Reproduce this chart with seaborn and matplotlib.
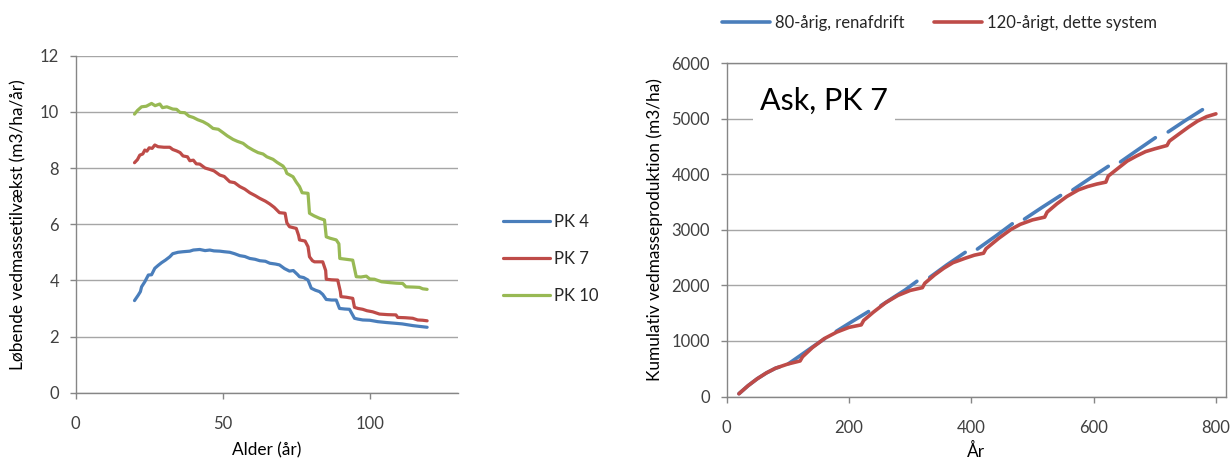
import numpy as np
import pandas as pd
import matplotlib
matplotlib.use("Agg")
import matplotlib.pyplot as plt
from matplotlib.lines import Line2D
import seaborn as sns

# ---------------- data: left chart (current increment) ----------------
pk4_age = [20, 21.3, 22, 22.4, 23.5, 24.7, 25.8, 26.9, 28, 29.2, 30.5, 32, 33, 34.8, 36.5, 38.8, 40, 42.2,
           44, 45.6, 47, 49, 50.5, 52.4, 54, 55.8, 57.5, 59.2, 61, 62.6, 64.5, 66, 68, 69.3, 71, 72.7, 74,
           75.5, 76.1, 77.5, 79, 80.1, 81.5, 82.9, 84, 85.2, 87, 88.6, 89.7, 91.5, 93.1, 94.8, 96, 97.6, 100,
           102.7, 105.5, 108.9, 111, 114.6, 117, 119.5]
pk4_val = [3.28, 3.48, 3.6, 3.77, 3.95, 4.19, 4.2, 4.43, 4.53, 4.63, 4.72, 4.84, 4.95, 5.0, 5.02, 5.04, 5.08,
           5.10, 5.06, 5.08, 5.05, 5.04, 5.02, 5.0, 4.95, 4.88, 4.85, 4.78, 4.75, 4.70, 4.68, 4.61, 4.58, 4.55,
           4.42, 4.33, 4.35, 4.2, 4.13, 4.1, 4.01, 3.72, 3.65, 3.60, 3.5, 3.32, 3.3, 3.30, 3.0, 2.98, 2.97,
           2.65, 2.62, 2.59, 2.58, 2.53, 2.5, 2.47, 2.45, 2.39, 2.36, 2.33]

pk7_age = [20, 21, 21.8, 22.8, 23.5, 24.2, 25, 26, 26.9, 28, 30, 32, 33, 34.3, 35.5, 36.5, 38, 38.8, 40, 41,
           42.2, 44, 45.6, 47, 49, 50.5, 52.4, 54, 55.8, 57.5, 59.2, 61, 62.6, 64.5, 66, 67.5, 69.3, 71.2,
           71.8, 72.7, 75, 75.8, 76.1, 78, 79, 79.5, 80.5, 81.2, 84, 85, 85.2, 87, 89.1, 90, 90.2, 92, 94.2,
           94.8, 96, 97.6, 99, 101, 103.3, 106, 108.9, 109.5, 112, 114.6, 116.3, 118, 119.5]
pk7_val = [8.19, 8.3, 8.46, 8.5, 8.64, 8.6, 8.72, 8.7, 8.82, 8.76, 8.74, 8.74, 8.66, 8.61, 8.55, 8.43, 8.4,
           8.26, 8.28, 8.15, 8.14, 8.0, 7.95, 7.9, 7.75, 7.7, 7.51, 7.48, 7.34, 7.25, 7.12, 7.02, 6.92, 6.82,
           6.72, 6.6, 6.41, 6.39, 6.05, 5.91, 5.85, 5.6, 5.44, 5.4, 5.2, 4.84, 4.7, 4.66, 4.66, 4.35, 4.04,
           4.02, 4.01, 3.6, 3.42, 3.4, 3.36, 3.04, 3.0, 2.97, 2.92, 2.88, 2.8, 2.78, 2.77, 2.68, 2.67, 2.65,
           2.59, 2.58, 2.56]

pk10_age = [20, 21, 22.4, 24, 25.8, 27, 28.6, 29.5, 31, 33, 34.3, 35.5, 37.1, 38.5, 40, 41.5, 43.3, 45, 46.7,
            48.5, 50.1, 51.5, 53.5, 55, 56.9, 58.5, 60.3, 62, 63.7, 65, 67.1, 68.5, 70.5, 71.3, 71.8, 73.9,
            75, 76.1, 77, 79, 79.5, 81, 82.9, 84.6, 85.2, 86.5, 88.6, 89.5, 89.8, 92, 94.2, 95.4, 97, 98.8,
            100, 101.6, 104, 106.7, 109, 111.2, 112.3, 115, 116.9, 118, 119.5]
pk10_val = [9.92, 10.05, 10.18, 10.2, 10.3, 10.22, 10.28, 10.15, 10.18, 10.1, 10.09, 9.98, 9.97, 9.85, 9.8,
            9.72, 9.65, 9.55, 9.41, 9.38, 9.26, 9.15, 9.02, 8.95, 8.88, 8.75, 8.64, 8.55, 8.5, 8.4, 8.31, 8.2,
            8.07, 7.95, 7.81, 7.69, 7.5, 7.34, 7.12, 7.1, 6.39, 6.3, 6.21, 6.15, 5.55, 5.5, 5.44, 5.3, 4.78,
            4.75, 4.72, 4.13, 4.12, 4.15, 4.05, 4.04, 3.95, 3.92, 3.9, 3.89, 3.77, 3.76, 3.75, 3.7, 3.68]

left_series = ["PK 4", "PK 7", "PK 10"]
left_colors = ["#4A7EBB", "#BE4B48", "#98B954"]

# ---------------- data: right chart (cumulative production) ----------------
# 80-year rotation (blank cells between rotations -> segments)
blue_year = [20, 35, 50, 65, 80, 86,
             101, 120, 140, 160,
             179, 205, 232,
             252, 275, 292, 311,
             332, 360, 390,
             410, 440, 467,
             487, 515, 546,
             566, 595, 624,
             644, 672, 701,
             722, 750, 778]
blue_value = [50, 195, 320, 425, 510, 530,
              590, 735, 890, 1040,
              1172, 1350, 1530,
              1635, 1800, 1920, 2075,
              2145, 2370, 2595,
              2655, 2890, 3110,
              3195, 3400, 3620,
              3720, 3935, 4145,
              4225, 4440, 4660,
              4765, 4970, 5165]
blue_seg = [0, 0, 0, 0, 0, 0,
            1, 1, 1, 1,
            2, 2, 2,
            3, 3, 3, 3,
            4, 4, 4,
            5, 5, 5,
            6, 6, 6,
            7, 7, 7,
            8, 8, 8,
            9, 9, 9]

red_year = [20, 35, 50, 65, 80, 100, 120, 124, 140, 160, 180, 200, 220, 224, 240, 260, 280, 300, 320, 324,
            340, 355, 370, 390, 405, 420, 424, 445, 465, 480, 500, 520, 524, 540, 556, 575, 590, 605, 620,
            624, 640, 655, 670, 685, 700, 720, 724, 740, 755, 770, 785, 800]
red_value = [50, 195, 320, 425, 510, 585, 640, 715, 880, 1045, 1160, 1245, 1290, 1370, 1520, 1690, 1820,
             1910, 1960, 2040, 2190, 2310, 2410, 2490, 2545, 2580, 2660, 2850, 3010, 3100, 3180, 3230, 3320,
             3470, 3600, 3720, 3780, 3825, 3860, 3970, 4110, 4240, 4330, 4410, 4460, 4520, 4600, 4730, 4850,
             4960, 5040, 5090]

right_series = ["80-årig, renafdrift", "120-årigt, dette system"]
right_colors = ["#4A7EBB", "#BE4B48"]
panel_title = "Ask, PK 7"

# ---------------- figure ----------------
sns.set_theme(style="white")
plt.rcParams["font.family"] = ["Lato", "DejaVu Sans"]

W, H = 1232, 459
fig = plt.figure(figsize=(W / 100, H / 100), dpi=100)

def px_axes(x0, y0, x1, y1):
    return fig.add_axes([x0 / W, 1 - y1 / H, (x1 - x0) / W, (y1 - y0) / H])

grid_c = "#A6A6A6"
spine_c = "#868686"
tick_c = "#404040"
fs = 12
lfs = 12.4

ax1 = px_axes(75.7, 55.7, 458, 392.7)
ax2 = px_axes(726.7, 63.3, 1226, 396.5)

# left chart
left_df = pd.concat([
    pd.DataFrame({"Alder": pk4_age, "v": pk4_val, "serie": left_series[0]}),
    pd.DataFrame({"Alder": pk7_age, "v": pk7_val, "serie": left_series[1]}),
    pd.DataFrame({"Alder": pk10_age, "v": pk10_val, "serie": left_series[2]}),
])
sns.lineplot(data=left_df, x="Alder", y="v", hue="serie", hue_order=left_series,
             palette=left_colors, linewidth=2.3, estimator=None, sort=False, ax=ax1, legend=False)
ax1.set_xlim(0, 130)
ax1.set_ylim(0, 12)
ax1.set_xticks([0, 50, 100])
ax1.set_yticks(np.arange(0, 13, 2))
ax1.set_xlabel("Alder (år)", fontsize=lfs, color="black")
ax1.set_ylabel("Løbende vedmassetilvækst (m3/ha/år)", fontsize=lfs, color="black")
ax1.yaxis.set_label_coords(-0.128, 0.5)
ax1.xaxis.set_label_coords(0.5, -0.148)
for s in ["top", "right"]:
    ax1.spines[s].set_visible(False)

handles1 = [Line2D([], [], color=c, lw=2.3) for c in left_colors]
fig.legend(handles1, left_series, loc="center left", bbox_to_anchor=(503 / W, 1 - 259 / H),
           frameon=False, fontsize=fs, handlelength=2.8, handletextpad=0.25, labelspacing=1.25,
           borderpad=0, borderaxespad=0)

# right chart
blue_df = pd.DataFrame({"year": blue_year, "v": blue_value, "seg": blue_seg})
red_df = pd.DataFrame({"year": red_year, "v": red_value})
sns.lineplot(data=blue_df, x="year", y="v", units="seg", estimator=None, color=right_colors[0],
             linewidth=2.6, ax=ax2, solid_capstyle="round")
sns.lineplot(data=red_df, x="year", y="v", estimator=None, color=right_colors[1],
             linewidth=2.6, ax=ax2, solid_capstyle="round")
ax2.set_xlim(0, 816.5)
ax2.set_ylim(0, 6000)
ax2.set_xticks(np.arange(0, 801, 200))
ax2.set_yticks(np.arange(0, 6001, 1000))
ax2.set_xlabel("År", fontsize=lfs, color="black")
ax2.set_ylabel("Kumulativ vedmasseproduktion (m3/ha)", fontsize=lfs, color="black")
ax2.yaxis.set_label_coords(-0.128, 0.5)
ax2.xaxis.set_label_coords(0.5, -0.14)
ax2.text(0.067, 0.887, panel_title, transform=ax2.transAxes, fontsize=22, color="black",
         ha="left", va="center", zorder=5,
         bbox=dict(facecolor="white", edgecolor="none", pad=5))

handles2 = [Line2D([], [], color=c, lw=2.6) for c in right_colors]
fig.legend(handles2, right_series, loc="center left", bbox_to_anchor=(722 / W, 1 - 23 / H),
           ncol=2, frameon=False, fontsize=fs, handlelength=2.9, handletextpad=0.3, columnspacing=1.75,
           borderpad=0, borderaxespad=0)

for ax in (ax1, ax2):
    ax.set_facecolor("white")
    ax.grid(axis="y", color=grid_c, linewidth=1.0)
    ax.grid(axis="x", visible=False)
    ax.set_axisbelow(True)
    for s in ax.spines.values():
        s.set_color(spine_c)
        s.set_linewidth(1.0)
    ax.tick_params(axis="both", which="both", direction="out", length=4, width=1, color=spine_c,
                   labelsize=fs, labelcolor=tick_c, left=True, bottom=True)
    ax.tick_params(axis="y", pad=8)
    ax.tick_params(axis="x", pad=13)

fig.savefig("out.png", dpi=100, facecolor="white")
